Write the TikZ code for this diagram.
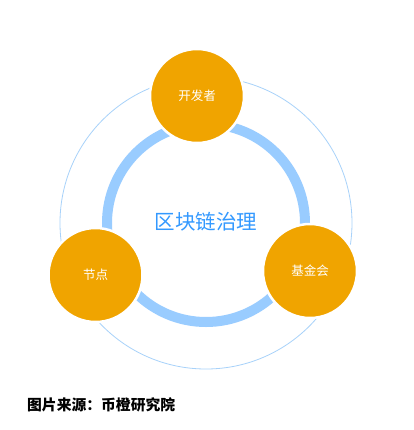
\documentclass[tikz,border=0pt]{standalone}
\usepackage{fontspec}
\newfontfamily\cjk{Noto Sans CJK SC}
\definecolor{ringblue}{HTML}{99CCFF}
\definecolor{thinblue}{HTML}{A8D2FA}
\definecolor{nodeorange}{HTML}{F0A400}
\definecolor{titleblue}{HTML}{3399FF}
\tikzset{
  role/.style={circle, fill=nodeorange, draw=white, line width=2.5bp, minimum size=94bp, inner sep=0pt, text=white, font=\cjk\fontsize{12.5bp}{14bp}\selectfont},
}
\begin{document}
\begin{tikzpicture}[x=1bp,y=-1bp]
\fill[white] (0,0) rectangle (414,430);
\useasboundingbox (0,0) rectangle (414,430);
\coordinate (c) at (206,223);
\draw[thinblue, line width=0.8bp] (c) circle[radius=146bp];
\draw[ringblue, line width=10bp] (c) circle[radius=99bp];
\node[text=titleblue, font=\cjk\fontsize{20.5bp}{24bp}\selectfont] (title) at (206,222) {区块链治理};
\node[role] (dev) at (197,96) {开发者};
\node[role] (nodes) at (95.5,275) {节点};
\node[role] (fund) at (310,271) {基金会};
\node[anchor=west, inner sep=0pt, font=\cjk\bfseries\fontsize{14.8bp}{17bp}\selectfont] (src) at (27,405) {图片来源：币橙研究院};
\end{tikzpicture}
\end{document}
